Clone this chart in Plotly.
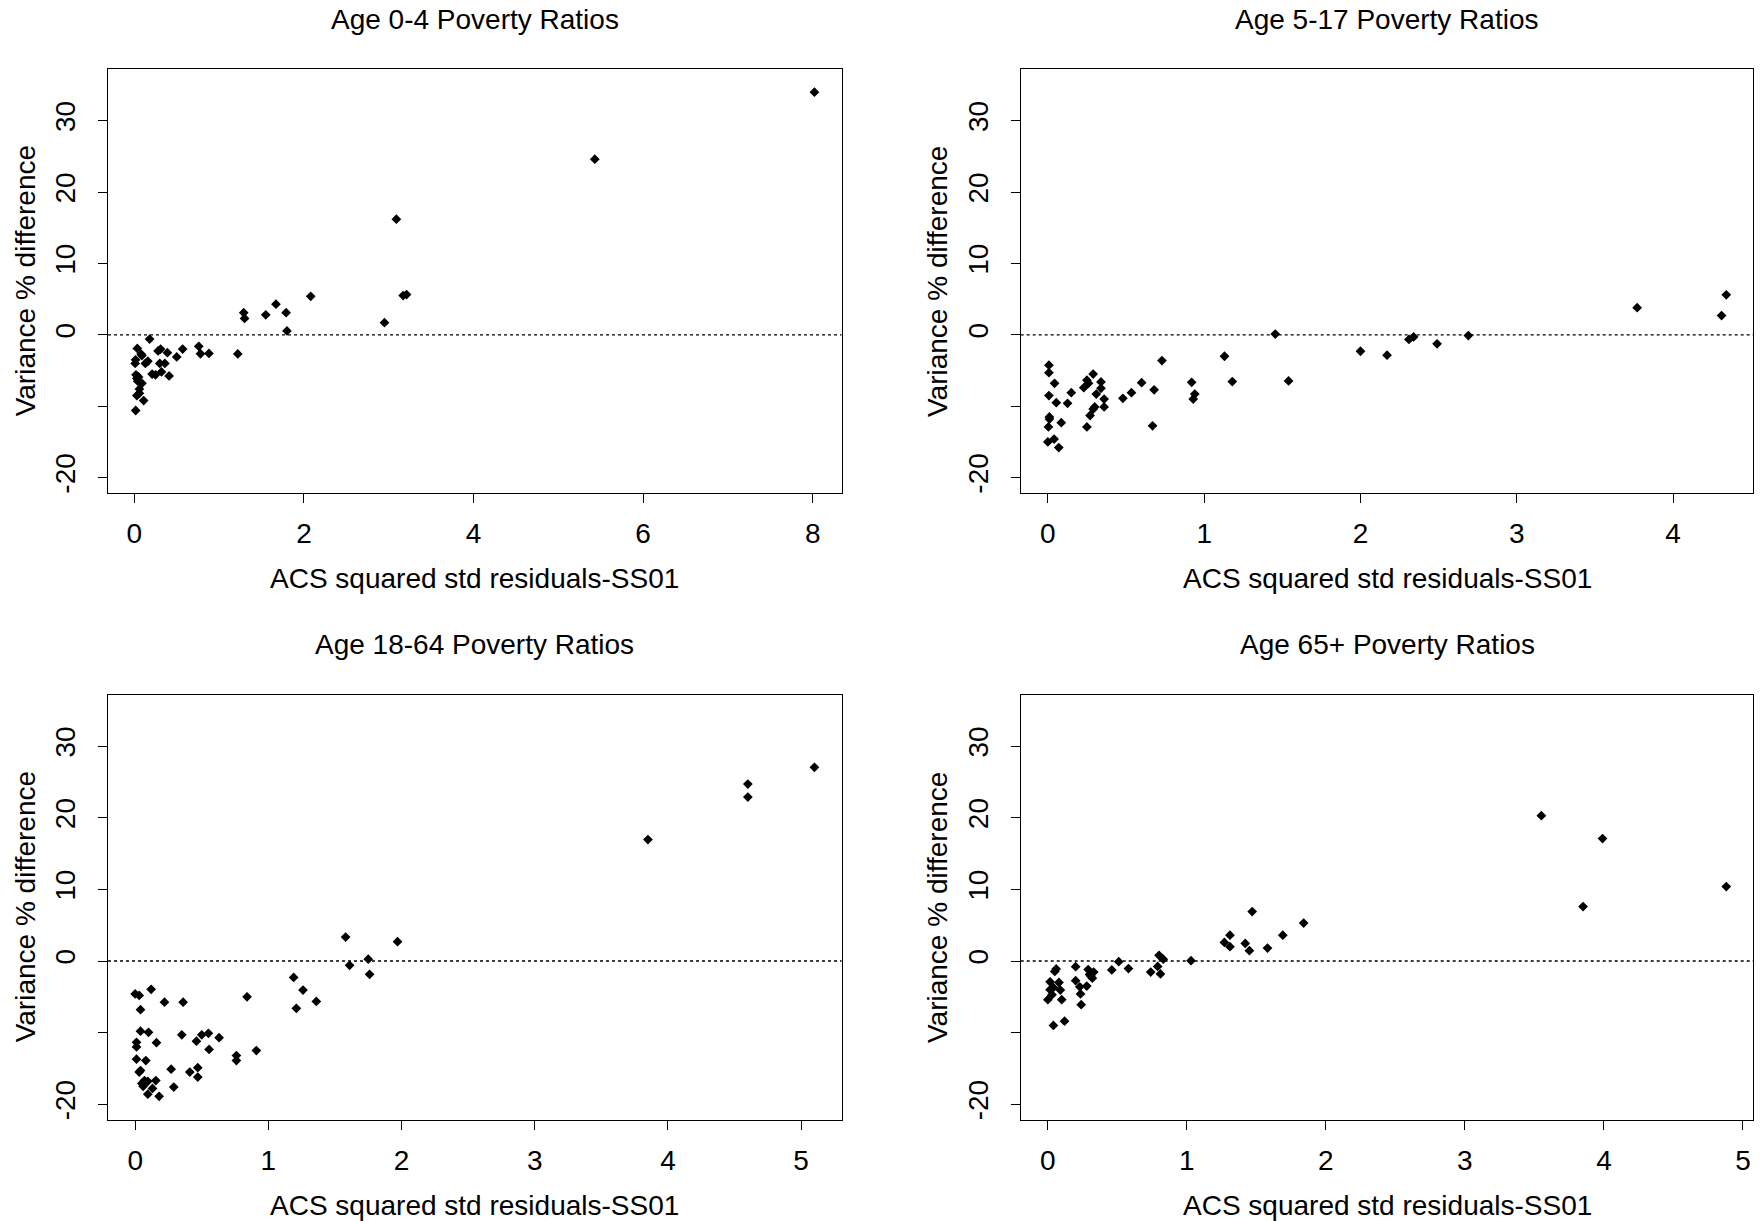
import plotly.graph_objects as go

# ---- data ----
titles = ["Age 0-4 Poverty Ratios", "Age 5-17 Poverty Ratios",
          "Age 18-64 Poverty Ratios", "Age 65+ Poverty Ratios"]
x_label = "ACS squared std residuals-SS01"
y_label = "Variance % difference"

x04 = [8.02, 5.43, 3.09, 2.08, 1.29, 1.30, 1.55, 1.67, 1.79, 1.80, 2.95, 3.17, 3.21, 1.22,
       0.88, 0.78, 0.76, 0.57, 0.50, 0.41, 0.39, 0.36, 0.32, 0.30, 0.31, 0.28, 0.25, 0.21,
       0.18, 0.16, 0.13, 0.11, 0.09, 0.09, 0.06, 0.06, 0.035, 0.01, 0.015, 0.02, 0.03, 0.04,
       0.03, 0.016, 0.08, 0.05]
y04 = [34.0, 24.6, 16.2, 5.4, 3.1, 2.3, 2.8, 4.3, 3.1, 0.55, 1.7, 5.5, 5.65, -2.67,
       -2.6, -2.65, -1.6, -2.0, -3.1, -5.75, -2.5, -4.0, -5.2, -4.0, -2.0, -2.25, -5.6, -5.5,
       -0.6, -3.7, -4.0, -9.2, -2.9, -6.8, -7.6, -8.2, -1.9, -4.0, -3.5, -5.6, -6.1, -6.5,
       -8.5, -10.6, -2.7, -5.9]

x517 = [4.34, 4.31, 3.77, 2.69, 2.49, 2.34, 2.31, 2.17, 2.00, 1.455, 1.54, 1.13, 1.18, 0.94,
        0.93, 0.92, 0.73, 0.68, 0.67, 0.60, 0.535, 0.48, 0.36, 0.36, 0.34, 0.34, 0.31, 0.30,
        0.29, 0.29, 0.27, 0.26, 0.25, 0.23, 0.25, 0.15, 0.126, 0.086, 0.07, 0.054, 0.043, 0.04,
        0.007, 0.007, 0.007, 0.01, 0.01, 0.004, 0.0]
y517 = [5.6, 2.7, 3.8, -0.1, -1.25, -0.3, -0.65, -2.85, -2.3, 0.1, -6.45, -3.0, -6.55, -8.3,
        -9.0, -6.65, -3.6, -7.7, -12.75, -6.7, -8.1, -8.9, -10.1, -9.0, -7.5, -6.6, -8.3, -10.1,
        -10.4, -5.5, -11.3, -6.8, -6.35, -7.4, -12.9, -8.1, -9.6, -12.3, -15.8, -9.5, -6.8, -14.6,
        -4.25, -5.3, -8.5, -11.5, -11.8, -12.9, -15.0]

x1864 = [5.10, 4.60, 4.60, 3.85, 1.97, 1.58, 1.61, 1.75, 1.76, 1.19, 1.26, 1.21, 1.36, 0.84,
         0.91, 0.76, 0.76, 0.63, 0.55, 0.555, 0.50, 0.46, 0.47, 0.47, 0.41, 0.35, 0.36, 0.29,
         0.27, 0.22, 0.18, 0.16, 0.155, 0.13, 0.12, 0.10, 0.095, 0.095, 0.07, 0.06, 0.05, 0.04,
         0.04, 0.04, 0.03, 0.03, 0.08, 0.01, 0.01, 0.01, 0.0]
y1864 = [27.05, 24.7, 22.9, 16.95, 2.7, 3.35, -0.6, 0.25, -1.85, -2.3, -4.05, -6.6, -5.65, -5.0,
         -12.5, -13.2, -13.9, -10.7, -10.1, -12.35, -10.3, -11.2, -14.9, -16.2, -15.5, -10.3, -5.75, -17.6,
         -15.1, -5.75, -18.9, -11.4, -16.7, -17.8, -3.95, -9.95, -16.8, -18.6, -16.7, -17.5, -17.1, -9.8,
         -6.8, -15.3, -15.5, -4.8, -13.9, -13.7, -12.0, -11.35, -4.6]

x65 = [4.88, 3.55, 3.99, 3.85, 1.84, 1.69, 1.58, 1.47, 1.45, 1.42, 1.31, 1.31, 1.27, 1.03,
       0.83, 0.80, 0.79, 0.81, 0.74, 0.58, 0.51, 0.46, 0.33, 0.32, 0.29, 0.28, 0.24, 0.235,
       0.23, 0.20, 0.20, 0.12, 0.10, 0.09, 0.08, 0.06, 0.05, 0.04, 0.04, 0.03, 0.016, 0.016,
       0.0, 0.31, 0.30]
y65 = [10.4, 20.3, 17.1, 7.6, 5.3, 3.6, 1.8, 6.9, 1.45, 2.45, 3.6, 2.0, 2.6, 0.05,
       0.25, 0.8, -0.75, -1.8, -1.55, -1.05, -0.1, -1.25, -1.55, -2.4, -1.2, -3.5, -6.1, -4.6,
       -3.6, -2.75, -0.8, -8.4, -5.4, -4.05, -3.0, -1.1, -1.45, -9.0, -3.7, -4.7, -2.9, -4.0,
       -5.4, -2.1, -1.9]

x_ticks = [[0, 2, 4, 6, 8], [0, 1, 2, 3, 4], [0, 1, 2, 3, 4, 5], [0, 1, 2, 3, 4, 5]]
y_ticks = [-20, -10, 0, 10, 20, 30]
y_ticktext = ["-20", "", "0", "10", "20", "30"]
y_lim = [-20, 35]

series = [(x04, y04), (x517, y517), (x1864, y1864), (x65, y65)]

# ---- layout geometry (pixels) ----
W, H = 1762, 1221
boxes = [  # left, right, top, bottom in px
    (108, 841.6, 69.3, 493.3),
    (1020.7, 1753.4, 69.3, 493.3),
    (108, 841.6, 694.6, 1120),
    (1020.7, 1753.4, 694.6, 1120),
]

FONT = "Liberation Sans, Arial, Helvetica, sans-serif"
FS = 28

def r_range(lo, hi):
    d = (hi - lo) * 0.04
    return [lo - d, hi + d]

fig = go.Figure()
annotations = []
shapes = []
for i, ((xs, ys), (l, r, t, b)) in enumerate(zip(series, boxes)):
    n = "" if i == 0 else str(i + 1)
    fig.add_trace(go.Scatter(
        x=xs, y=ys, mode="markers", xaxis="x" + n, yaxis="y" + n,
        marker=dict(symbol="diamond", size=7.5, color="black", line=dict(width=0)),
        showlegend=False, hoverinfo="x+y"))
    xr = r_range(min(xs), max(xs))
    yr = r_range(*y_lim)
    common = dict(showline=True, mirror=True, linecolor="black", linewidth=1,
                  ticks="outside", ticklen=9, tickcolor="black", tickwidth=1,
                  showgrid=False, zeroline=False,
                  tickfont=dict(family=FONT, size=FS, color="black"))
    fig.update_layout(**{
        "xaxis" + n: dict(domain=[l / W, r / W], range=xr, anchor="y" + n,
                          tickvals=x_ticks[i], ticktext=[str(v) for v in x_ticks[i]],
                          ticklabelstandoff=6, **common),
        "yaxis" + n: dict(domain=[1 - b / H, 1 - t / H], range=yr, anchor="x" + n,
                          tickvals=y_ticks, ticktext=y_ticktext, tickangle=-90,
                          ticklabelstandoff=12, **common),
    })
    # dotted zero reference line
    shapes.append(dict(type="line", xref="x" + n + " domain", yref="y" + n,
                       x0=0, x1=1, y0=0, y1=0,
                       line=dict(color="black", width=1.3, dash="3px,3px")))
    cx = (l + r) / 2
    cy = (t + b) / 2
    annotations.append(dict(text=titles[i], xref="paper", yref="paper",
                            x=cx / W, y=1 - (t - 50) / H, xanchor="center", yanchor="middle",
                            showarrow=False, font=dict(family=FONT, size=FS, color="black")))
    annotations.append(dict(text=x_label, xref="paper", yref="paper",
                            x=cx / W, y=1 - (b + 85) / H, xanchor="center", yanchor="middle",
                            showarrow=False, font=dict(family=FONT, size=FS, color="black")))
    annotations.append(dict(text=y_label, xref="paper", yref="paper",
                            x=(l - 83) / W, y=1 - cy / H, xanchor="center", yanchor="middle",
                            textangle=-90, showarrow=False,
                            font=dict(family=FONT, size=FS, color="black")))

fig.update_layout(width=W, height=H, margin=dict(l=0, r=0, t=0, b=0),
                  paper_bgcolor="white", plot_bgcolor="white",
                  annotations=annotations, shapes=shapes,
                  font=dict(family=FONT, color="black"))

fig.write_html("out.html")
